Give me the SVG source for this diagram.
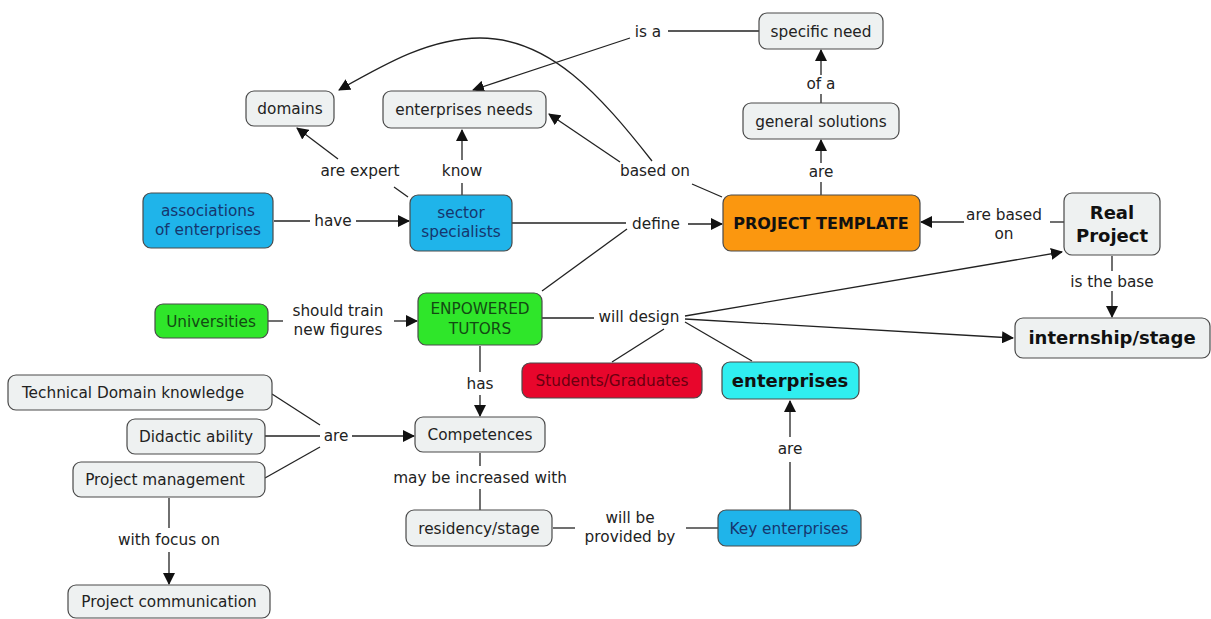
<svg xmlns="http://www.w3.org/2000/svg" width="1211" height="619" viewBox="0 0 1211 619">
  <style>
    .n rect { fill: #eef1f1; stroke: #4a4a4a; stroke-width: 1.2; }
    .blue rect { fill: #1fb4ea; }
    .green rect { fill: #2fe62a; }
    .orange rect { fill: #fb970f; }
    .red rect { fill: #e8062c; }
    .cyan rect { fill: #30eef0; }
    text { font-family: "DejaVu Sans", Verdana, sans-serif; font-size: 15.3px; fill: #222; text-anchor: middle; }
    .blue text { fill: #16366e; }
    .green text { fill: #134a13; }
    .red text { fill: #6a0010; }
    .b { font-weight: bold; fill: #111; }
    .big { font-size: 18px; }
    .lbl { fill: #222; }
    #links line, #links path { stroke: #222; stroke-width: 1.3; fill: none; }
    .a { marker-end: url(#ah); }
  </style>
  <defs>
    <marker id="ah" viewBox="0 0 12 12" refX="11" refY="6" markerWidth="12" markerHeight="12" markerUnits="userSpaceOnUse" orient="auto">
      <path d="M0,0 L12,6 L0,12 Z" fill="#111"/>
    </marker>
  </defs>
  <rect width="1211" height="619" fill="#ffffff"/>

  <!-- connectors and linking phrases -->
  <g id="links">
    <!-- specific need - is a - enterprises needs -->
    <line x1="759" y1="31" x2="668" y2="31"/>
    <line class="a" x1="630" y1="38" x2="473" y2="90"/>
    <text class="lbl" x="648" y="37">is a</text>
    <!-- general solutions - of a - specific need -->
    <line x1="821" y1="103" x2="821" y2="94"/>
    <line class="a" x1="821" y1="75" x2="821" y2="50"/>
    <text class="lbl" x="821" y="89">of a</text>
    <!-- project template - are - general solutions -->
    <line x1="821" y1="195" x2="821" y2="182"/>
    <line class="a" x1="821" y1="163" x2="821" y2="140"/>
    <text class="lbl" x="821" y="177">are</text>
    <!-- project template - based on - enterprises needs / domains -->
    <line x1="722" y1="197" x2="692" y2="184"/>
    <line class="a" x1="620" y1="162" x2="549" y2="114"/>
    <path class="a" d="M652,161 C600,95 550,38 480,38 C430,38 385,64 339,90"/>
    <text class="lbl" x="655" y="176">based on</text>
    <!-- sector specialists - are expert - domains -->
    <line x1="408" y1="197" x2="394" y2="187"/>
    <line class="a" x1="338" y1="159" x2="297" y2="128"/>
    <text class="lbl" x="360" y="176">are expert</text>
    <!-- sector specialists - know - enterprises needs -->
    <line x1="462" y1="195" x2="462" y2="183"/>
    <line class="a" x1="462" y1="160" x2="462" y2="130"/>
    <text class="lbl" x="462" y="176">know</text>
    <!-- associations - have - sector specialists -->
    <line x1="274" y1="221" x2="310" y2="221"/>
    <line class="a" x1="356" y1="221" x2="409" y2="221"/>
    <text class="lbl" x="333" y="226">have</text>
    <!-- sector specialists / tutors - define - project template -->
    <line x1="512" y1="223" x2="626" y2="223"/>
    <line x1="542" y1="291" x2="627" y2="229"/>
    <line class="a" x1="688" y1="224" x2="722" y2="224"/>
    <text class="lbl" x="656" y="229">define</text>
    <!-- real project - are based on - project template -->
    <line x1="1064" y1="222" x2="1050" y2="222"/>
    <line class="a" x1="964" y1="222" x2="921" y2="222"/>
    <text class="lbl" x="1004" y="220">are based</text>
    <text class="lbl" x="1004" y="239">on</text>
    <!-- real project - is the base - internship/stage -->
    <line x1="1112" y1="256" x2="1112" y2="271"/>
    <line class="a" x1="1112" y1="291" x2="1112" y2="317"/>
    <text class="lbl" x="1112" y="287">is the base</text>
    <!-- universities - should train new figures - tutors -->
    <line x1="268" y1="321" x2="283" y2="321"/>
    <line class="a" x1="394" y1="321" x2="417" y2="321"/>
    <text class="lbl" x="338" y="316">should train</text>
    <text class="lbl" x="338" y="335">new figures</text>
    <!-- tutors - will design - real project / internship / students / enterprises -->
    <line x1="542" y1="318" x2="594" y2="318"/>
    <line class="a" x1="685" y1="316" x2="1062" y2="252"/>
    <line class="a" x1="685" y1="319" x2="1013" y2="338"/>
    <line x1="664" y1="329" x2="612" y2="362"/>
    <line x1="685" y1="322" x2="752" y2="361"/>
    <text class="lbl" x="639" y="322">will design</text>
    <!-- tutors - has - competences -->
    <line x1="480" y1="346" x2="480" y2="372"/>
    <line class="a" x1="480" y1="395" x2="480" y2="416"/>
    <text class="lbl" x="480" y="389">has</text>
    <!-- skills - are - competences -->
    <line x1="272" y1="394" x2="320" y2="425"/>
    <line x1="265" y1="436" x2="320" y2="436"/>
    <line x1="265" y1="478" x2="320" y2="447"/>
    <line class="a" x1="352" y1="436" x2="414" y2="436"/>
    <text class="lbl" x="336" y="441">are</text>
    <!-- competences - may be increased with - residency/stage -->
    <line x1="480" y1="453" x2="480" y2="466"/>
    <line x1="480" y1="489" x2="480" y2="510"/>
    <text class="lbl" x="480" y="483">may be increased with</text>
    <!-- residency/stage - will be provided by - key enterprises -->
    <line x1="553" y1="528" x2="575" y2="528"/>
    <line x1="686" y1="528" x2="718" y2="528"/>
    <text class="lbl" x="630" y="523">will be</text>
    <text class="lbl" x="630" y="542">provided by</text>
    <!-- key enterprises - are - enterprises -->
    <line x1="790" y1="510" x2="790" y2="462"/>
    <line class="a" x1="790" y1="437" x2="790" y2="401"/>
    <text class="lbl" x="790" y="454">are</text>
    <!-- project management - with focus on - project communication -->
    <line x1="169" y1="498" x2="169" y2="528"/>
    <line class="a" x1="169" y1="552" x2="169" y2="584"/>
    <text class="lbl" x="169" y="545">with focus on</text>
  </g>

  <!-- concepts -->
  <g id="domains" class="n"><rect x="246" y="91" width="88" height="35" rx="8"/><text x="290" y="114">domains</text></g>
  <g id="enterprises-needs" class="n"><rect x="383" y="91" width="163" height="37" rx="8"/><text x="464" y="115">enterprises needs</text></g>
  <g id="specific-need" class="n"><rect x="759" y="13" width="124" height="36" rx="8"/><text x="821" y="37">specific need</text></g>
  <g id="general-solutions" class="n"><rect x="743" y="103" width="156" height="36" rx="8"/><text x="821" y="127">general solutions</text></g>
  <g id="associations" class="n blue"><rect x="143" y="193" width="130" height="55" rx="8"/><text x="208" y="216">associations</text><text x="208" y="235">of enterprises</text></g>
  <g id="sector-specialists" class="n blue"><rect x="410" y="195" width="102" height="56" rx="8"/><text x="461" y="218">sector</text><text x="461" y="237">specialists</text></g>
  <g id="project-template" class="n orange"><rect x="723" y="195" width="197" height="56" rx="8"/><text class="b" x="821" y="229" style="font-size:16px">PROJECT TEMPLATE</text></g>
  <g id="real-project" class="n"><rect x="1064" y="193" width="96" height="62" rx="8"/><text class="b big" x="1112" y="219">Real</text><text class="b big" x="1112" y="242">Project</text></g>
  <g id="universities" class="n green"><rect x="155" y="304" width="113" height="34" rx="8"/><text x="211" y="327">Universities</text></g>
  <g id="enpowered-tutors" class="n green"><rect x="418" y="293" width="124" height="52" rx="8"/><text x="480" y="314">ENPOWERED</text><text x="480" y="334">TUTORS</text></g>
  <g id="internship" class="n"><rect x="1015" y="318" width="195" height="40" rx="8"/><text class="b big" x="1112" y="344">internship/stage</text></g>
  <g id="students" class="n red"><rect x="522" y="363" width="180" height="35" rx="8"/><text x="612" y="386">Students/Graduates</text></g>
  <g id="enterprises" class="n cyan"><rect x="722" y="362" width="137" height="37" rx="8"/><text class="b big" x="790" y="387">enterprises</text></g>
  <g id="technical-domain" class="n"><rect x="8" y="375" width="264" height="35" rx="8"/><text x="133" y="398">Technical Domain knowledge</text></g>
  <g id="didactic" class="n"><rect x="127" y="419" width="138" height="35" rx="8"/><text x="196" y="442">Didactic ability</text></g>
  <g id="project-management" class="n"><rect x="73" y="462" width="192" height="35" rx="8"/><text x="165" y="485">Project management</text></g>
  <g id="competences" class="n"><rect x="415" y="417" width="130" height="35" rx="8"/><text x="480" y="440">Competences</text></g>
  <g id="residency" class="n"><rect x="406" y="510" width="146" height="36" rx="8"/><text x="479" y="534">residency/stage</text></g>
  <g id="key-enterprises" class="n blue"><rect x="718" y="510" width="143" height="36" rx="8"/><text x="789" y="534">Key enterprises</text></g>
  <g id="project-communication" class="n"><rect x="68" y="585" width="202" height="33" rx="8"/><text x="169" y="607">Project communication</text></g>
</svg>
